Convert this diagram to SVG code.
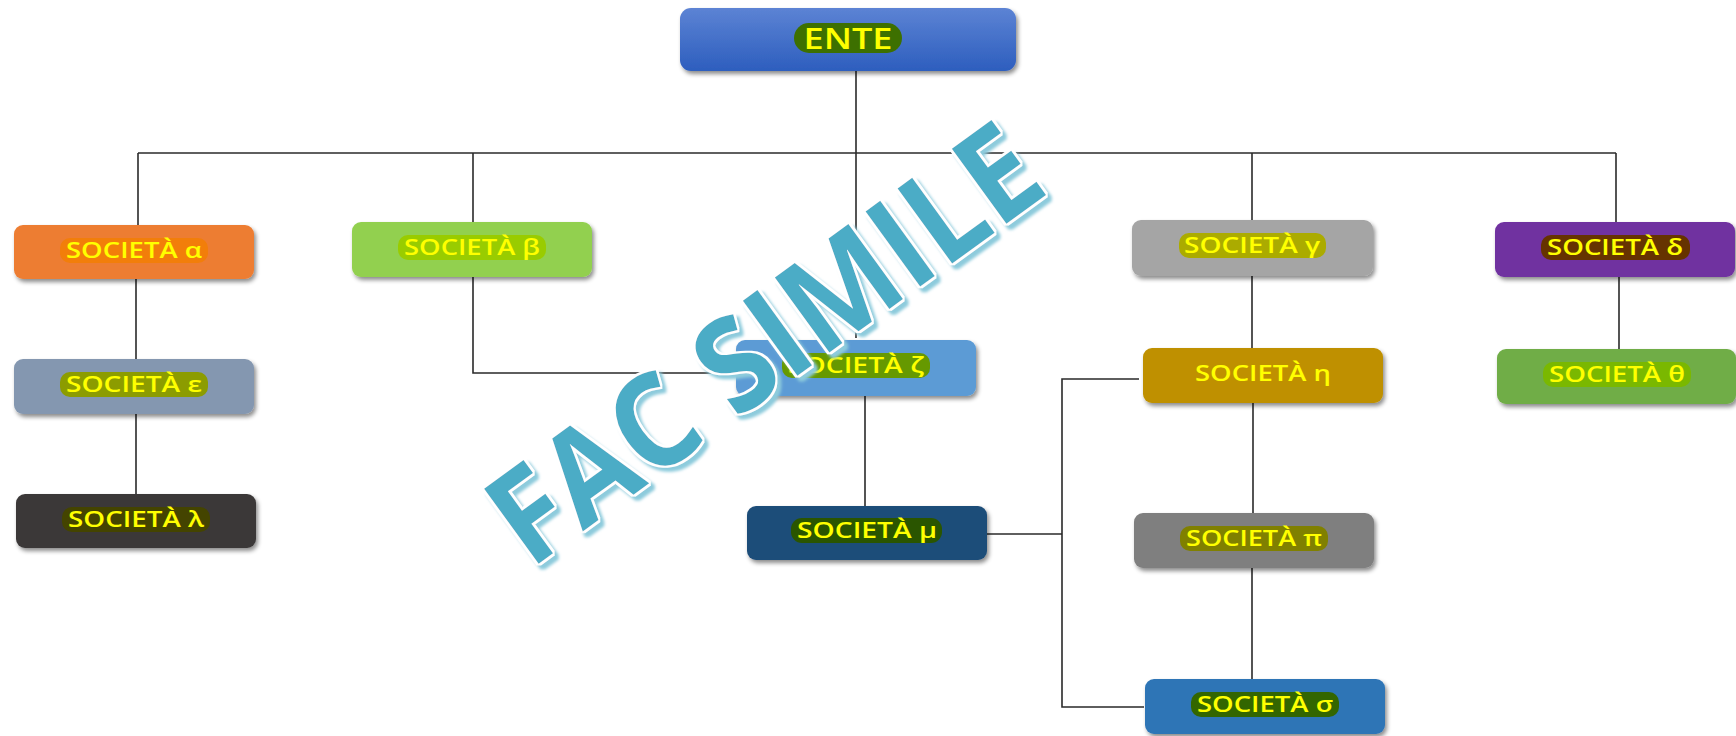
<svg xmlns="http://www.w3.org/2000/svg" width="1736" height="736" viewBox="0 0 1736 736">
<defs>
<linearGradient id="gEnte" x1="0" y1="0" x2="0" y2="1">
<stop offset="0" stop-color="#5C83D4"/>
<stop offset="1" stop-color="#2D5EBE"/>
</linearGradient>
<filter id="sh" x="-10%" y="-20%" width="125%" height="160%">
<feDropShadow dx="2" dy="3" stdDeviation="2" flood-color="#000" flood-opacity="0.45"/>
</filter>
<filter id="wm" x="-10%" y="-10%" width="125%" height="125%">
<feMorphology in="SourceAlpha" operator="dilate" radius="1.6" result="d"/>
<feGaussianBlur in="d" stdDeviation="1.5" result="db"/>
<feOffset in="db" dx="4" dy="4" result="off"/>
<feFlood flood-color="#8DCBDC"/>
<feComposite in2="off" operator="in" result="shadow"/>
<feFlood flood-color="#FFFFFF"/>
<feComposite in2="d" operator="in" result="outline"/>
<feMerge><feMergeNode in="shadow"/><feMergeNode in="outline"/><feMergeNode in="SourceGraphic"/></feMerge>
</filter>
</defs>
<style>
.box{filter:url(#sh);}
.lbl{font-family:"Open Sans","DejaVu Sans",sans-serif;font-weight:600;font-size:22px;fill:#FFFF00;text-anchor:middle;}
.ente{font-family:"Open Sans","DejaVu Sans",sans-serif;font-weight:600;font-size:29px;fill:#FFFF00;text-anchor:middle;}
.con{fill:none;stroke:#2a2a2a;stroke-width:1.6;}
.wmk{font-family:"Open Sans","DejaVu Sans",sans-serif;font-weight:700;font-size:130px;fill:#4BACC6;}
</style>
<rect width="1736" height="736" fill="#FFFFFF"/>
<g id="connectors">
<path class="con" d="M856 71 V338"/>
<path class="con" d="M138 153 H1616"/>
<path class="con" d="M138 153 V225"/>
<path class="con" d="M473 153 V222"/>
<path class="con" d="M1252 153 V220"/>
<path class="con" d="M1616 153 V222"/>
<path class="con" d="M136 279 V359"/>
<path class="con" d="M136 414 V494"/>
<path class="con" d="M473 277 V373 H736"/>
<path class="con" d="M865 396 V506"/>
<path class="con" d="M987 534 H1062"/>
<path class="con" d="M1139 379 H1062 V707 H1144"/>
<path class="con" d="M1252 276 V348"/>
<path class="con" d="M1253 403 V513"/>
<path class="con" d="M1252 568 V679"/>
<path class="con" d="M1619 277 V349"/>
</g>
<g id="ente">
<rect class="box" x="680" y="8" width="336" height="63" rx="11" fill="url(#gEnte)"/>
<rect x="794" y="23" width="108" height="30" rx="15" fill="#3D7000"/>
<text class="ente" x="848" y="48.5" textLength="89" lengthAdjust="spacingAndGlyphs">ENTE</text>
</g>
<g id="alpha">
<rect class="box" x="14" y="225" width="240" height="54" rx="9" fill="#ED7D31"/>
<rect x="60" y="238" width="148" height="25" rx="10" fill="#F27E0A"/>
<text class="lbl" x="134" y="258" textLength="136" lengthAdjust="spacingAndGlyphs">SOCIETÀ α</text>
</g>
<g id="beta">
<rect class="box" x="352" y="222" width="240" height="55" rx="9" fill="#92D050"/>
<rect x="398" y="235" width="148" height="25" rx="10" fill="#99CC00"/>
<text class="lbl" x="472" y="255" textLength="136" lengthAdjust="spacingAndGlyphs">SOCIETÀ β</text>
</g>
<g id="gamma">
<rect class="box" x="1132" y="220" width="241" height="56" rx="9" fill="#A5A5A5"/>
<rect x="1179" y="233" width="147" height="25" rx="10" fill="#ABAB00"/>
<text class="lbl" x="1252" y="253" textLength="136" lengthAdjust="spacingAndGlyphs">SOCIETÀ γ</text>
</g>
<g id="delta">
<rect class="box" x="1495" y="222" width="240" height="55" rx="9" fill="#7030A0"/>
<rect x="1541" y="235" width="149" height="25" rx="10" fill="#663300"/>
<text class="lbl" x="1615" y="255" textLength="136" lengthAdjust="spacingAndGlyphs">SOCIETÀ δ</text>
</g>
<g id="epsilon">
<rect class="box" x="14" y="359" width="240" height="55" rx="9" fill="#8497B0"/>
<rect x="60" y="372" width="148" height="25" rx="10" fill="#8C9C00"/>
<text class="lbl" x="134" y="392" textLength="136" lengthAdjust="spacingAndGlyphs">SOCIETÀ ε</text>
</g>
<g id="zeta">
<rect class="box" x="736" y="340" width="240" height="56" rx="9" fill="#5B9BD5"/>
<rect x="782" y="353" width="148" height="25" rx="10" fill="#669900"/>
<text class="lbl" x="856" y="373" textLength="136" lengthAdjust="spacingAndGlyphs">SOCIETÀ ζ</text>
</g>
<g id="eta">
<rect class="box" x="1143" y="348" width="240" height="55" rx="9" fill="#BF9000"/>
<text class="lbl" x="1263" y="381" textLength="136" lengthAdjust="spacingAndGlyphs">SOCIETÀ η</text>
</g>
<g id="theta">
<rect class="box" x="1497" y="349" width="239" height="55" rx="9" fill="#70AD47"/>
<rect x="1543" y="362" width="148" height="25" rx="10" fill="#7AB800"/>
<text class="lbl" x="1617" y="382" textLength="136" lengthAdjust="spacingAndGlyphs">SOCIETÀ θ</text>
</g>
<g id="lambda">
<rect class="box" x="16" y="494" width="240" height="54" rx="9" fill="#3B3838"/>
<rect x="62" y="507" width="148" height="25" rx="10" fill="#444400"/>
<text class="lbl" x="136" y="527" textLength="136" lengthAdjust="spacingAndGlyphs">SOCIETÀ λ</text>
</g>
<g id="mu">
<rect class="box" x="747" y="506" width="240" height="54" rx="9" fill="#1F4E79"/>
<rect x="791" y="518" width="151" height="25" rx="11" fill="#2A5500"/>
<text class="lbl" x="867" y="538" textLength="140" lengthAdjust="spacingAndGlyphs">SOCIETÀ μ</text>
</g>
<g id="pi">
<rect class="box" x="1134" y="513" width="240" height="55" rx="9" fill="#7F7F7F"/>
<rect x="1180" y="526" width="148" height="25" rx="10" fill="#808000"/>
<text class="lbl" x="1254" y="546" textLength="136" lengthAdjust="spacingAndGlyphs">SOCIETÀ π</text>
</g>
<g id="sigma">
<rect class="box" x="1145" y="679" width="240" height="55" rx="9" fill="#2E75B6"/>
<rect x="1191" y="692" width="148" height="25" rx="10" fill="#336600"/>
<text class="lbl" x="1265" y="712" textLength="136" lengthAdjust="spacingAndGlyphs">SOCIETÀ σ</text>
</g>
<g id="watermark" filter="url(#wm)">
<text class="wmk" x="0" y="0" transform="translate(530,570) rotate(-36)" textLength="645" lengthAdjust="spacingAndGlyphs">FAC SIMILE</text>
</g>
</svg>
